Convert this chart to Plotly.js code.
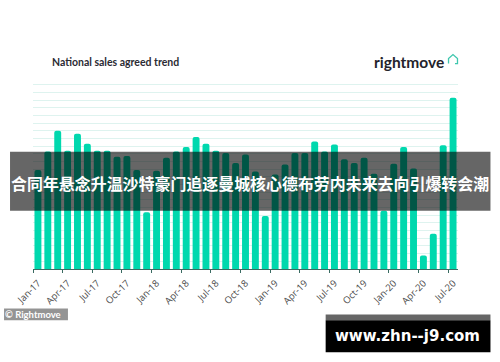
<!DOCTYPE html>
<html>
<head>
<meta charset="utf-8">
<script src="https://cdn.plot.ly/plotly-3.0.1.min.js"></script>
<style>html,body{margin:0;padding:0;background:#fff;overflow:hidden}#chart{width:500px;height:362px}</style>
</head>
<body>
<div id="chart"></div>
<script>
var chartTitle = "National sales agreed trend";
var brand = "rightmove";
var credit = "© Rightmove";
var bannerText = "合同年悬念升温沙特豪门追逐曼城核心德布劳内未来去向引爆转会潮";
var siteText = "www.zhn--j9.com";
var months = ["Jan-17","Feb-17","Mar-17","Apr-17","May-17","Jun-17","Jul-17","Aug-17","Sep-17","Oct-17","Nov-17","Dec-17",
"Jan-18","Feb-18","Mar-18","Apr-18","May-18","Jun-18","Jul-18","Aug-18","Sep-18","Oct-18","Nov-18","Dec-18",
"Jan-19","Feb-19","Mar-19","Apr-19","May-19","Jun-19","Jul-19","Aug-19","Sep-19","Oct-19","Nov-19","Dec-19",
"Jan-20","Feb-20","Mar-20","Apr-20","May-20","Jun-20","Jul-20"];
var sales = [12.9,15.3,18.0,15.4,17.6,16.3,15.4,15.4,14.6,14.7,12.9,7.4,
12.8,14.5,15.3,15.9,17.2,16.3,15.4,15.1,13.8,14.9,12.7,6.9,
12.3,13.6,15.1,15.1,16.6,15.3,16.2,14.3,13.8,14.5,12.4,7.6,
13.7,15.9,13.1,1.75,4.6,16.1,22.3];
var tickLabels = months.filter(function(m,i){return i%3===0;});
var tickPositions = months.map(function(m,i){return i+0.5;}).filter(function(p,i){return i%3===0;});
var positions = months.map(function(m,i){return i+1;});

var W=500,H=362,L=33,R=458.5,T=77,B=269.5;
function px(x){return (x-L)/(R-L);}
function py(y){return (B-y)/(B-T);}
function rect(x0,y0,x1,y1,color){return {type:'rect',xref:'paper',yref:'paper',x0:px(x0),x1:px(x1),y0:py(y0),y1:py(y1),fillcolor:color,line:{width:0},layer:'above'};}
function note(x,y,text,size,color,family,anchor){return {xref:'paper',yref:'paper',x:px(x),y:py(y),text:text,showarrow:false,xanchor:anchor||'left',yanchor:'middle',font:{size:size,color:color,family:family},borderpad:0,borderwidth:0};}
var house=[[449,63.5],[449,58.5],[453.5,54.5],[458,58.5],[458,63.5],[455.5,63.5]].map(function(p,i){return (i?'L':'M')+px(p[0]).toFixed(4)+','+py(p[1]).toFixed(4);}).join(' ');

Plotly.newPlot('chart',[{
  type:'bar',x:positions,y:sales,width:0.7,
  marker:{color:'#00d8ae',cornerradius:2,line:{width:0}},
  hoverinfo:'skip'
}],{
  width:W,height:H,showlegend:false,
  paper_bgcolor:'#fff',plot_bgcolor:'#fff',
  margin:{l:L,r:W-R,t:T,b:H-B,pad:0},
  xaxis:{range:[0.5,43.5],tickmode:'array',tickvals:tickPositions,ticktext:tickLabels,tickangle:-45,
    ticks:'outside',ticklen:3,tickwidth:1,tickcolor:'#3a6b62',showgrid:false,zeroline:false,
    showline:true,linecolor:'#3a6b62',linewidth:1,ticklabelshift:5,ticklabelstandoff:1,
    tickfont:{size:9.5,color:'#4a4a4a',family:'"Open Sans", sans-serif'}},
  yaxis:{range:[0,25],dtick:1,showticklabels:false,ticks:'',showgrid:true,gridcolor:'#def3ef',gridwidth:1,zeroline:false,showline:false},
  shapes:[
    rect(10,152,491,211,'rgba(0,0,0,0.6)'),
    rect(4,309,68,321,'rgba(0,0,0,0.42)'),
    rect(326,315,491,321,'rgba(0,0,0,0.6)'),
    rect(326,321,491,353,'#000'),
    {type:'path',xref:'paper',yref:'paper',path:house,line:{color:'#3fc7ae',width:1.3},layer:'above'}
  ],
  annotations:[
    note(52,62,'<b>'+chartTitle+'</b>',10.5,'#2b2b33','Lato, sans-serif'),
    note(374,61.5,'<b>'+brand+'</b>',15.5,'#23232b','Lato, sans-serif'),
    note(250.5,183,'<b>'+bannerText+'</b>',15.95,'#fff','"Noto Sans CJK SC"','center'),
    note(5,315.5,'<b>'+credit+'</b>',9.5,'#fff','Lato, sans-serif'),
    note(408,337,'<b>'+siteText+'</b>',15,'#fff','"DejaVu Sans"','center')
  ]
},{staticPlot:true,displayModeBar:false});
</script>
</body>
</html>
